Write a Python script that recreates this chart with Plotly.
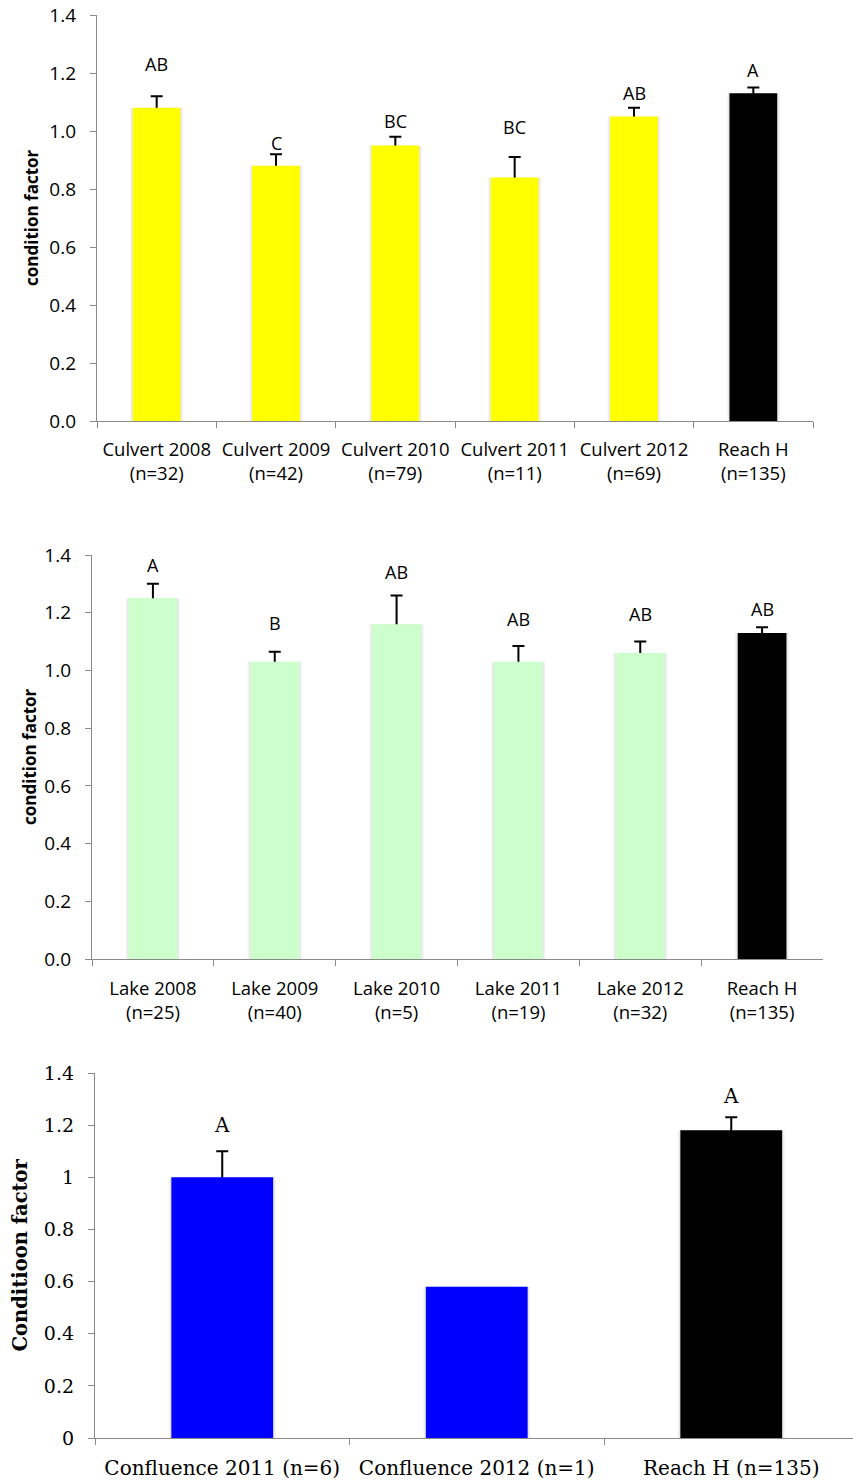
import plotly.graph_objects as go

# ---- data -----------------------------------------------------------------
culvert_cats = ["Culvert 2008<br>(n=32)", "Culvert 2009<br>(n=42)", "Culvert 2010<br>(n=79)",
                "Culvert 2011<br>(n=11)", "Culvert 2012<br>(n=69)", "Reach H<br>(n=135)"]
culvert_means = [1.08, 0.88, 0.95, 0.84, 1.05, 1.13]
culvert_se = [0.04, 0.04, 0.03, 0.07, 0.03, 0.02]
culvert_letters = ["AB", "C", "BC", "BC", "AB", "A"]
culvert_letter_y = [1.23, 0.96, 1.035, 1.015, 1.13, 1.21]
culvert_colors = ["#FFFF00"] * 5 + ["#000000"]

lake_cats = ["Lake 2008<br>(n=25)", "Lake 2009<br>(n=40)", "Lake 2010<br>(n=5)",
             "Lake 2011<br>(n=19)", "Lake 2012<br>(n=32)", "Reach H<br>(n=135)"]
lake_means = [1.25, 1.03, 1.16, 1.03, 1.06, 1.13]
lake_se = [0.05, 0.035, 0.10, 0.055, 0.04, 0.02]
lake_letters = ["A", "B", "AB", "AB", "AB", "AB"]
lake_letter_y = [1.365, 1.163, 1.342, 1.178, 1.195, 1.213]
lake_colors = ["#CCFFCC"] * 5 + ["#000000"]

conf_cats = ["Confluence 2011 (n=6)", "Confluence 2012 (n=1)", "Reach H (n=135)"]
conf_means = [1.00, 0.58, 1.18]
conf_se = [0.10, None, 0.05]
conf_letters = ["A", "", "A"]
conf_letter_y = [1.20, None, 1.31]
conf_colors = ["#0000FF", "#0000FF", "#000000"]

y_ticks = [0.0, 0.2, 0.4, 0.6, 0.8, 1.0, 1.2, 1.4]

# ---- layout geometry ------------------------------------------------------
W, H = 853, 1484
AXIS_GREY = "#8A8A8A"
SANS = "Open Sans"
SERIF = "DejaVu Serif"
BAR_W = 0.4
# the lower end of each error stem is tucked under its bar
STEM_TUCK = 0.02


def ypaper(px):
    return 1 - px / H


panels = [
    dict(cats=culvert_cats, means=culvert_means, se=culvert_se, letters=culvert_letters,
         letter_y=culvert_letter_y, colors=culvert_colors,
         xdom=[97 / W, 813 / W], ydom=[ypaper(421), ypaper(15)],
         font=SANS, xtick_size=18.5, ytick_size=19, letter_size=18, title="condition factor",
         title_size=17, title_x=32, tickfmt=".1f", xrange=[-0.5, 5.5], cap=6, xstand=12,
         catpx=119.3),
    dict(cats=lake_cats, means=lake_means, se=lake_se, letters=lake_letters,
         letter_y=lake_letter_y, colors=lake_colors,
         xdom=[92 / W, 823 / W], ydom=[ypaper(959), ypaper(555)],
         font=SANS, xtick_size=18.5, ytick_size=19, letter_size=18, title="condition factor",
         title_size=17, title_x=30, tickfmt=".1f", xrange=[-0.5, 5.5], cap=6, xstand=13,
         catpx=121.8),
    dict(cats=conf_cats, means=conf_means, se=conf_se, letters=conf_letters,
         letter_y=conf_letter_y, colors=conf_colors,
         xdom=[95 / W, 1.0], ydom=[ypaper(1438), ypaper(1073)],
         font=SERIF, xtick_size=20, ytick_size=19, letter_size=20, title="Conditioon factor",
         title_size=19.5, title_x=20, tickfmt="", xrange=[-0.5, -0.5 + 758 / 254.5], cap=6,
         xstand=12, catpx=254.5),
]

fig = go.Figure()
annotations = []

for i, p in enumerate(panels, start=1):
    xa = "x" if i == 1 else f"x{i}"
    ya = "y" if i == 1 else f"y{i}"
    n = len(p["means"])

    # soft drop shadow around each bar
    for grow_px, alpha in [(6, 0.035), (3, 0.06)]:
        fig.add_trace(go.Bar(
            x=p["cats"], y=p["means"], xaxis=xa, yaxis=ya,
            width=BAR_W + grow_px / p["catpx"],
            marker=dict(color=f"rgba(0,0,0,{alpha})", line=dict(width=0)),
            showlegend=False, hoverinfo="skip",
        ))

    # error bars (upper side only); bars drawn next cover the stem base
    err_y = [m if e is not None else None for m, e in zip(p["means"], p["se"])]
    fig.add_trace(go.Bar(
        x=p["cats"], y=err_y, xaxis=xa, yaxis=ya, width=BAR_W,
        marker=dict(color="rgba(0,0,0,0)", line=dict(width=0)),
        error_y=dict(type="data", array=p["se"], symmetric=False,
                     arrayminus=[STEM_TUCK] * n,
                     color="#000000", thickness=2, width=p["cap"]),
        showlegend=False, hoverinfo="skip",
    ))

    # the bars themselves
    fig.add_trace(go.Bar(
        x=p["cats"], y=p["means"], xaxis=xa, yaxis=ya,
        width=BAR_W, marker=dict(color=p["colors"], line=dict(width=0)),
        showlegend=False, hoverinfo="skip",
    ))

    # significance letters above each bar
    for cat, letter, ly in zip(p["cats"], p["letters"], p["letter_y"]):
        if not letter:
            continue
        annotations.append(dict(
            x=cat, y=ly, xref=xa, yref=ya, text=letter, showarrow=False,
            font=dict(family=p["font"], size=p["letter_size"], color="#000000"),
            xanchor="center", yanchor="middle",
        ))
    # rotated y-axis title
    annotations.append(dict(
        x=p["title_x"] / W, y=(p["ydom"][0] + p["ydom"][1]) / 2,
        xref="paper", yref="paper", text=f"<b>{p['title']}</b>", textangle=-90,
        showarrow=False, xanchor="center", yanchor="middle",
        font=dict(family=p["font"], size=p["title_size"], color="#000000"),
    ))

    xkey = "xaxis" if i == 1 else f"xaxis{i}"
    ykey = "yaxis" if i == 1 else f"yaxis{i}"
    fig.update_layout(**{
        xkey: dict(
            domain=p["xdom"], anchor=ya, type="category", range=p["xrange"],
            showline=True, linecolor=AXIS_GREY, linewidth=1.3,
            ticks="outside", tickson="boundaries", ticklen=6, tickcolor=AXIS_GREY,
            tickwidth=1.3, showgrid=False, zeroline=False, automargin=False,
            ticklabelstandoff=p["xstand"],
            tickfont=dict(family=p["font"], size=p["xtick_size"], color="#000000"),
            fixedrange=True,
        ),
        ykey: dict(
            domain=p["ydom"], anchor=xa, range=[0, 1.4],
            tickvals=y_ticks, tickformat=p["tickfmt"],
            showline=True, linecolor=AXIS_GREY, linewidth=1.3,
            ticks="outside", ticklen=6, tickcolor=AXIS_GREY, tickwidth=1.3,
            showgrid=False, zeroline=False, ticklabelstandoff=10, automargin=False,
            tickfont=dict(family=p["font"], size=p["ytick_size"], color="#000000"),
            fixedrange=True,
        ),
    })

fig.update_layout(
    template="none",
    width=W, height=H, margin=dict(l=0, r=0, t=0, b=0, autoexpand=False),
    paper_bgcolor="#FFFFFF", plot_bgcolor="#FFFFFF",
    annotations=annotations, barmode="overlay",
)

fig.write_html("out.html")
